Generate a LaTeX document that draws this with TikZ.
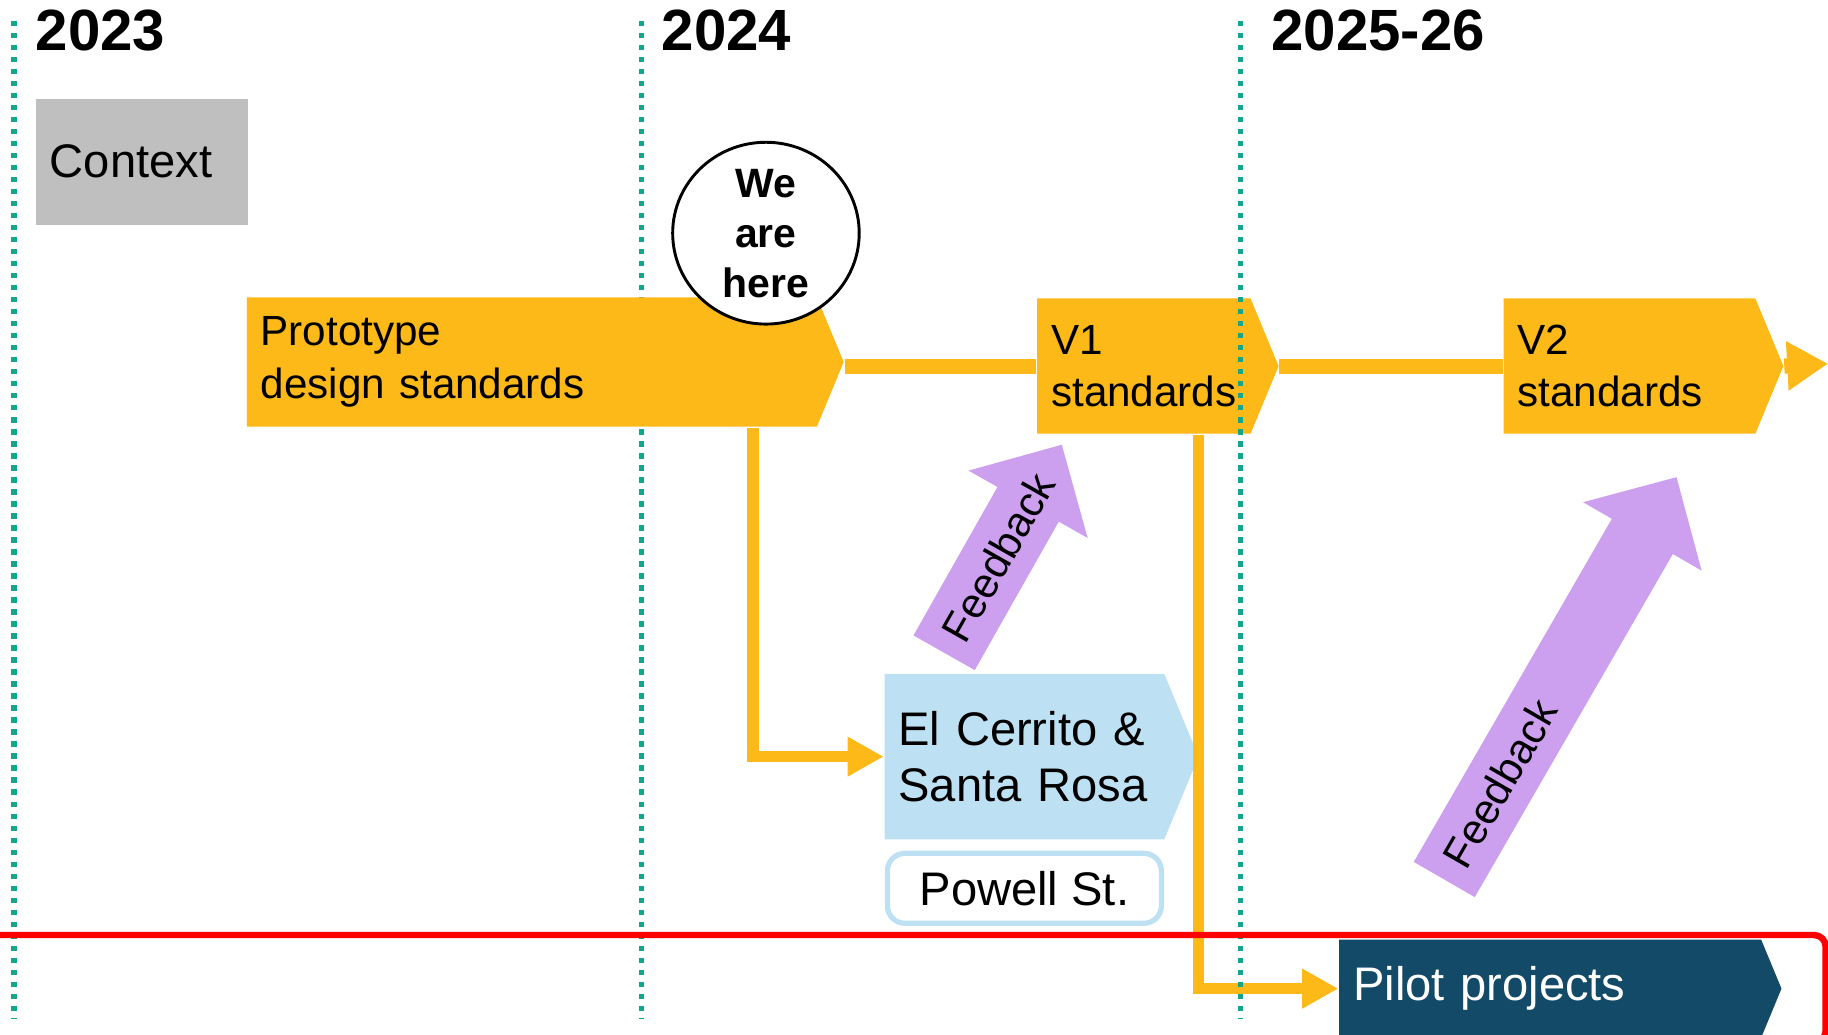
\documentclass[tikz,border=0pt]{standalone}
\usepackage{fontspec}
\setmainfont{Liberation Sans}
\usepackage{xcolor}
\usetikzlibrary{positioning,shapes.geometric,shapes.symbols,shapes.arrows,arrows.meta}

\definecolor{stdyellow}{RGB}{252,185,23}
\definecolor{pilotblue}{RGB}{189,225,243}
\definecolor{fbpurple}{RGB}{204,160,238}
\definecolor{deepteal}{RGB}{18,74,104}
\definecolor{yearteal}{RGB}{18,166,140}
\definecolor{ctxgray}{RGB}{191,191,191}

\begin{document}
\begin{tikzpicture}[x=0.1mm, y=-0.1mm,
		year/.style={font=\fontsize{14.2}{17}\selectfont\bfseries, anchor=base west, inner sep=0pt},
		yearline/.style={yearteal, line width=0.45mm, dash pattern=on 0.45mm off 0.58mm},
		chev/.style={signal, signal to=east, signal pointer angle=135, fill=stdyellow, inner xsep=1.2mm, inner ysep=0pt, align=left, anchor=west, font=\fontsize{10.3}{12.8}\selectfont},
		tline/.style={stdyellow, line width=1.3mm},
		conn/.style={stdyellow, line width=1mm, -{Triangle[length=3.1mm, width=3.2mm]}},
		fbarrow/.style={single arrow, fill=fbpurple, inner sep=2.95mm, single arrow head extend=2.85mm, single arrow tip angle=90, anchor=tail},
		fblabel/.style={sloped, font=\fontsize{10.3}{12}\selectfont}
	]
		\useasboundingbox (0,0) rectangle (1568,887);
		
		% Years
		\draw [yearline] (12,18) -- (12,873);
		\draw [yearline] (550,18) -- (550,873);
		\node [year] (y23) at (30,43) {2023};
		\node [year] (y24) at (567,43) {2024};
		\node [year] (y25) at (1090,43) {2025-26};
		
		% Nodes
		\node [fill=ctxgray, anchor=north west, minimum height=10.8mm, text width=15.8mm, inner xsep=1.2mm, font=\fontsize{11.5}{13.7}\selectfont] (context) at (30,84) {Context};
		\node [chev, minimum height=11.1mm, text width=46.5mm] (proto) at (211,310.5) {Prototype\\design standards};
		\node [ellipse, draw, line width=0.25mm, fill=white, minimum width=16mm, minimum height=14.8mm, inner sep=0pt, align=center, font=\fontsize{10}{12.2}\selectfont\bfseries] (here) at (657,200) {We\\are\\here};
		\node [chev, minimum height=11.6mm, text width=15.9mm] (v1) at (889,314) {V1\\standards};
		\node [chev, minimum height=11.6mm, text width=19.2mm] (v2) at (1289,314) {V2\\standards};
		\node [chev, fill=pilotblue, minimum height=14.2mm, text width=21.6mm, font=\fontsize{11.5}{13.7}\selectfont] (elc) at (758,649) {El Cerrito \&\\Santa Rosa};
		\node [draw=pilotblue, line width=0.45mm, fill=white, rounded corners=1.5mm, minimum width=23.5mm, minimum height=6mm, font=\fontsize{11.5}{13.7}\selectfont, below=0.9mm of elc] (powell) {Powell St.};
		\node [chev, fill=deepteal, text=white, minimum height=8.4mm, text width=33.8mm, font=\fontsize{11.5}{13.7}\selectfont] (pilot) at (1148,848) {Pilot projects};
		\node [fbarrow, minimum height=20.5mm, rotate=60.5] (fb1) at (809.5,560.5) {};
		\node [fbarrow, minimum height=39.85mm, rotate=60] (fb2) at (1238.5,755) {};
		\coordinate (tlend) at (1568,312);
		
		% Arrows
		\draw [tline] (proto.east |- v1.west) -- (v1.west);
		\draw [tline] (v1.east) -- (v2.west);
		\draw [tline, -{Triangle[length=3.5mm, width=4mm]}] (v2.east) -- (tlend);
		\draw [conn] ([xshift=43.5mm]proto.south west) |- (elc.west);
		\draw [conn] ([xshift=13.9mm]v1.south west) |- (pilot.west);
		\path (fb1.tail) -- (fb1.tip) node [fblabel, pos=.46] {Feedback};
		\path (fb2.tail) -- (fb2.tip) node [fblabel, pos=.24] {Feedback};
		
		\draw [yearline] (1064,18) -- (1064,873);
		\draw [red, line width=0.55mm, rounded corners=1mm] (-30,802) rectangle (1566,894);
	\end{tikzpicture}
\end{document}
